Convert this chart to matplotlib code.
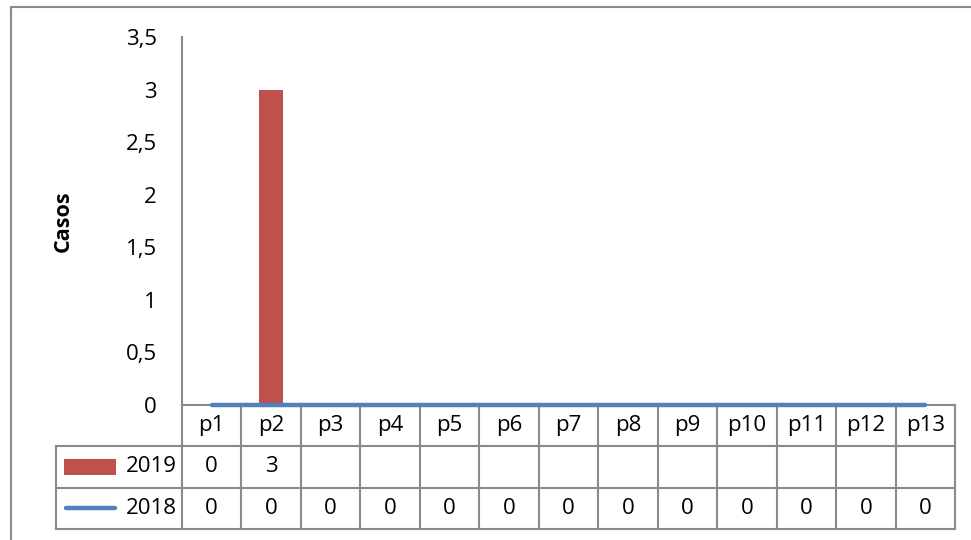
import numpy as np
import matplotlib
matplotlib.use('Agg')
import matplotlib.pyplot as plt
from matplotlib.patches import Rectangle
from matplotlib.ticker import FuncFormatter

# --- data ---
categories = ['p1', 'p2', 'p3', 'p4', 'p5', 'p6', 'p7', 'p8', 'p9', 'p10', 'p11', 'p12', 'p13']
casos_2019 = [0, 3, None, None, None, None, None, None, None, None, None, None, None]
casos_2018 = [0, 0, 0, 0, 0, 0, 0, 0, 0, 0, 0, 0, 0]
series_names = ['2019', '2018']
y_ticks = [0, 0.5, 1, 1.5, 2, 2.5, 3, 3.5]

RED = '#C0504D'
BLUE = '#4F81BD'
GRID = '#8A8A8A'
FS = 16

plt.rcParams['font.family'] = ['Open Sans', 'DejaVu Sans']

W, H = 971, 540


def px_rect(l, t, r, b):
    return [l / W, 1 - b / H, (r - l) / W, (b - t) / H]


fig = plt.figure(figsize=(W / 100, H / 100), dpi=100)
fig.patch.set_facecolor('white')

# outer chart border (right and bottom edges fall outside the picture)
fig.patches.append(Rectangle((11 / W, -0.1), 1.2, 1 - 7 / H + 0.1, transform=fig.transFigure,
                             fill=False, edgecolor=GRID, linewidth=1.5))

# --- data table (drawn first so the chart line sits on top) ---
col_px = 773 / len(categories)
label_w = (182 - 56) / col_px
tab = fig.add_axes(px_rect(56, 405, 955, 529))
left = -0.5 - label_w
right = len(categories) - 0.5
tab.set_xlim(left, right)
tab.set_ylim(3, 0)
tab.axis('off')

kw = dict(color=GRID, linewidth=1.5, clip_on=False, solid_capstyle='projecting')
for r in [1, 2, 3]:
    tab.plot([left, right], [r, r], **kw)
tab.plot([left, left], [1, 3], **kw)
for k in range(len(categories) + 1):
    tab.plot([k - 0.5, k - 0.5], [0, 3], **kw)

for i, c in enumerate(categories):
    tab.text(i, 0.5, c, ha='center', va='center', fontsize=FS)
    if casos_2019[i] is not None:
        tab.text(i, 1.5, f'{casos_2019[i]:g}', ha='center', va='center', fontsize=FS)
    tab.text(i, 2.5, f'{casos_2018[i]:g}', ha='center', va='center', fontsize=FS)

for r, name in zip([1.5, 2.5], series_names):
    tab.text(-0.58, r, name, ha='right', va='center', fontsize=FS)
tab.add_patch(Rectangle((left + 0.13, 1.3), 0.88, 0.4, facecolor=RED, edgecolor='none'))
tab.plot([left + 0.16, left + 1.0], [2.5, 2.5], color=BLUE, linewidth=3.2, solid_capstyle='round')

# --- chart ---
ax = fig.add_axes(px_rect(182, 37, 955, 405))
ax.patch.set_alpha(0)
x = np.arange(len(categories))
v2019 = np.array([np.nan if v is None else v for v in casos_2019], dtype=float)
ax.bar(x, v2019, width=0.4, color=RED, zorder=2)
ax.plot(x, casos_2018, color=BLUE, linewidth=3.2, solid_capstyle='round', zorder=4, clip_on=False)
ax.set_xlim(-0.5, len(categories) - 0.5)
ax.set_ylim(0, 3.5)
ax.set_yticks(y_ticks)
ax.yaxis.set_major_formatter(FuncFormatter(lambda v, p: f'{v:g}'.replace('.', ',')))
ax.tick_params(axis='y', length=0, pad=18, labelsize=FS)
ax.set_xticks([])
for s in ['top', 'right']:
    ax.spines[s].set_visible(False)
for s in ['left', 'bottom']:
    ax.spines[s].set_color(GRID)
    ax.spines[s].set_linewidth(1.5)

fig.text(63 / W, 1 - 221 / H, 'Casos', rotation=90, ha='center', va='center',
         fontsize=FS - 0.5, fontweight='bold')

fig.savefig('out.png', dpi=100)
